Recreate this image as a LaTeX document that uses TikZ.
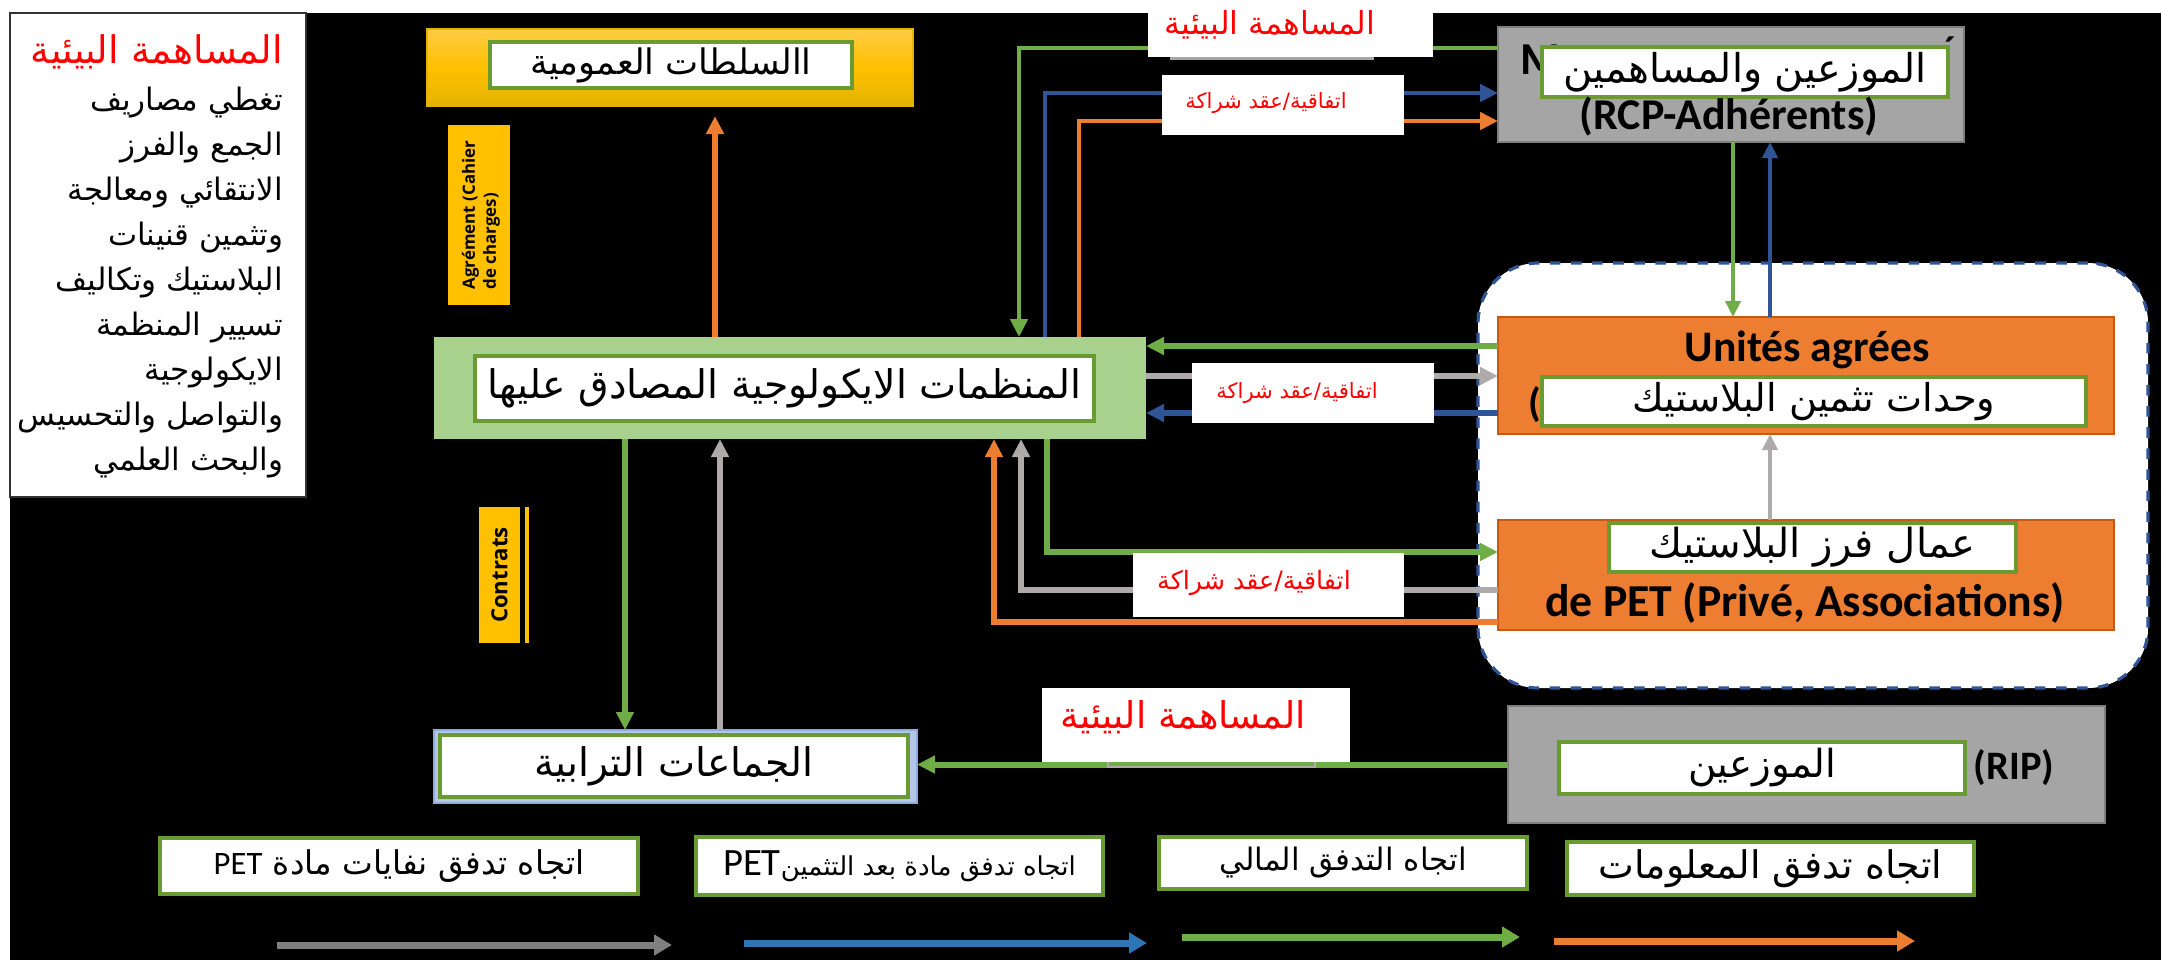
\documentclass[tikz,border=0pt]{standalone}
\usepackage{fontspec}
\usetikzlibrary{arrows.meta,fit}
\TeXXeTstate=1
\newfontfamily\arfont[Script=Arabic]{DejaVu Sans}
\newfontfamily\calfont{Carlito}
\newfontfamily\osfont{Open Sans}
\newcommand\fs[1]{\arfont\fontsize{#1}{#1}\selectfont}
\definecolor{cgreen}{HTML}{70AD47}
\definecolor{ibord}{HTML}{6A9B32}
\definecolor{cblue}{HTML}{2F5597}
\definecolor{cblue2}{HTML}{2E75B6}
\definecolor{corange}{HTML}{ED7D31}
\definecolor{orangeB}{HTML}{C55A11}
\definecolor{cgray}{HTML}{AEAAAA}
\definecolor{cgray2}{HTML}{7F7F7F}
\definecolor{ecofill}{HTML}{A9D18E}
\definecolor{boxgray}{HTML}{A5A5A5}
\definecolor{boxgrayB}{HTML}{7F7F7F}
\definecolor{lblue}{HTML}{B4C7E7}
\definecolor{lblueB}{HTML}{8FAADC}
\definecolor{gold}{HTML}{FFC000}
\definecolor{goldA}{HTML}{FFCC45}
\definecolor{goldC}{HTML}{E3B300}
\definecolor{redtxt}{HTML}{FF0000}
\begin{document}
\begin{tikzpicture}[x=0.01cm,y=-0.01cm,
  every node/.style={inner sep=0pt, outer sep=0pt},
  wbox/.style={fill=white, draw=ibord, line width=0.9pt},
  flow/.style={line width=1.7pt, -{Triangle[length=0.18cm,width=0.17cm]}},
  thinflow/.style={line width=1.1pt, -{Triangle[length=0.16cm,width=0.15cm]}},
  legarrow/.style={line width=2pt, -{Triangle[length=0.18cm,width=0.2cm]}},
  lat/.style={font=\calfont\bfseries\fontsize{11.5}{12}\selectfont},
  rlab/.style={text=redtxt},
  lline/.style={anchor=east}
]
\useasboundingbox (0,0) rectangle (2161,960);
\fill[black] (10,13) rectangle (2161,960);

% ---------- left text box
\node[fit={(10,13)(306,497)}, fill=white, draw=black!80, line width=0.5pt] (leftbox) {};
\node[anchor=east, rlab] (ltitle) at (283,52) {\fs{10.8}\beginR المساهمة البيئية\endR};
\node[lline] (l1) at (283,103) {\fs{8.8}\beginR تغطي مصاريف\endR};
\node[lline] (l2) at (283,148) {\fs{8.8}\beginR الجمع والفرز\endR};
\node[lline] (l3) at (283,193) {\fs{8.8}\beginR الانتقائي ومعالجة\endR};
\node[lline] (l4) at (283,238) {\fs{8.8}\beginR وتثمين قنينات\endR};
\node[lline] (l5) at (283,283) {\fs{8.8}\beginR البلاستيك وتكاليف\endR};
\node[lline] (l6) at (283,328) {\fs{8.8}\beginR تسيير المنظمة\endR};
\node[lline] (l7) at (283,373) {\fs{8.8}\beginR الايكولوجية\endR};
\node[lline] (l8) at (283,418) {\fs{8.8}\beginR والتواصل والتحسيس\endR};
\node[lline] (l9) at (283,463) {\fs{8.8}\beginR والبحث العلمي\endR};

% ---------- public authorities
\node[fit={(427,29)(913,106)}, top color=goldA, bottom color=goldC, middle color=gold, draw=goldC, line width=0.4pt] (pub) {};
\node[fit={(490,42)(852,88)}, wbox] (pubin) {};
\node (pubt) at (pubin.center) {\fs{10}\beginR االسلطات العمومية\endR};

\node[fit={(448,125)(510,305)}, fill=gold] (agr) {};
\node[rotate=90, align=left, font=\osfont\bfseries\fontsize{4.8}{6}\selectfont] (agrt) at (481,215) {Agrément (Cahier\\de charges)};

% ---------- eco organisations
\node[fit={(434,337)(1146,439)}, fill=ecofill] (eco) {};
\node[fit={(475,356)(1094,421)}, wbox] (ecoin) {};
\node (ecot) at (ecoin.center) {\fs{11.2}\beginR المنظمات الايكولوجية المصادق عليها\endR};

\node[fit={(479,507)(520,643)}, fill=gold] (contr) {};
\node[fit={(525,507)(529,643)}, fill=gold] (contrbar) {};
\node[rotate=90, font=\osfont\bfseries\fontsize{6.3}{7}\selectfont] (contrt) at (contr.center) {Contrats};

% ---------- territorial collectivities
\node[fit={(434,730)(917,803)}, fill=lblue, draw=lblueB, line width=0.5pt] (jam) {};
\node[fit={(440,735)(908,797)}, wbox] (jamin) {};
\node (jamt) at (jamin.center) {\fs{11.2}\beginR الجماعات الترابية\endR};

% ---------- dashed region
\node[fit={(1478,263)(2148,688)}, fill=white, draw=cblue, dashed, line width=0.9pt, rounded corners=0.6cm] (region) {};

% ---------- RCP
\node[fit={(1498,27)(1964,142)}, fill=boxgray, draw=boxgrayB, line width=0.6pt] (rcp) {};
\node[anchor=west, font=\calfont\bfseries\fontsize{13}{13}\selectfont] (rcpM) at (1520,60) {M};
\node[font=\calfont\bfseries\fontsize{11}{11}\selectfont] (rcpacc) at (1950,50) {´};
\node[fit={(1542,47)(1948,97)}, wbox] (rcpin) {};
\node (rcpt) at (rcpin.center) {\fs{11.3}\beginR الموزعين والمساهمين\endR};
\node[lat, font=\calfont\bfseries\fontsize{12.5}{13}\selectfont] (rcpl) at (1729,117) {(RCP-Adhérents)};

% ---------- units
\node[fit={(1498,317)(2114,434)}, fill=corange, draw=orangeB, line width=0.8pt] (unit) {};
\node[lat, font=\calfont\bfseries\fontsize{12.4}{13}\selectfont] (unitl) at (1807,350) {Unités agrées};
\node[lat, anchor=west] (unitp) at (1528,405) {(};
\node[fit={(1542,377)(2086,426)}, wbox] (unitin) {};
\node (unitt) at (unitin.center) {\fs{10.9}\beginR وحدات تثمين البلاستيك\endR};

% ---------- PET workers
\node[fit={(1498,520)(2114,630)}, fill=corange, draw=orangeB, line width=0.8pt] (pet) {};
\node[fit={(1609,523)(2016,572)}, wbox] (petin) {};
\node (pett) at (petin.center) {\fs{11.4}\beginR عمال فرز  البلاستيك\endR};
\node[lat, font=\calfont\bfseries\fontsize{13}{13}\selectfont] (petl) at (1805,603) {de PET (Privé, Associations)};

% ---------- RIP
\node[fit={(1508,706)(2105,823)}, fill=boxgray, draw=boxgrayB, line width=0.6pt] (rip) {};
\node[fit={(1559,742)(1965,794)}, wbox] (ripin) {};
\node (ript) at (ripin.center) {\fs{11}\beginR الموزعين\endR};
\node[lat] (ripl) at (2014,768) {(RIP)};

% ---------- helper coordinates
\coordinate (yE) at (0,48);
\coordinate (yF) at (0,93);
\coordinate (yG) at (0,121);
\coordinate (yH) at (0,346);
\coordinate (yI) at (0,376);
\coordinate (yJ) at (0,413);
\coordinate (yK) at (0,552);
\coordinate (yL) at (0,590);
\coordinate (yM) at (0,622);
\coordinate (xA) at (715,0);
\coordinate (xB) at (625,0);
\coordinate (xC) at (720,0);
\coordinate (xE) at (1019,0);
\coordinate (xF) at (1045,0);
\coordinate (xG) at (1079,0);
\coordinate (xK) at (1047,0);
\coordinate (xL) at (1021,0);
\coordinate (xM) at (994,0);
\coordinate (xN) at (1733,0);
\coordinate (xO) at (1770,0);

% ---------- connectors
\draw[flow, corange, shorten >=0.1cm] (xA |- eco.north) -- (xA |- pub.south);
\draw[flow, cgreen] (xB |- eco.south) -- (xB |- jam.north);
\draw[flow, cgray] (xC |- jam.north) -- (xC |- eco.south);
\draw[flow, cgreen] (rip.west) -- (rip.west -| jam.east);
\draw[flow, cgreen, line width=1.4pt] (rcp.west |- yE) -| (xE |- eco.north);
\draw[flow, cblue, line width=1.4pt] (xF |- eco.north) |- (rcp.west |- yF);
\draw[flow, corange, line width=1.4pt] (xG |- eco.north) |- (rcp.west |- yG);
\draw[flow, cgreen] (unit.west |- yH) -- (eco.east |- yH);
\draw[flow, cgray] (eco.east |- yI) -- (unit.west |- yI);
\draw[flow, cblue] (unit.west |- yJ) -- (eco.east |- yJ);
\draw[flow, cgreen, line width=1.5pt] (xK |- eco.south) |- (pet.west |- yK);
\draw[flow, cgray] (pet.west |- yL) -| (xL |- eco.south);
\draw[flow, corange, line width=1.5pt] (pet.west |- yM) -| (xM |- eco.south);
\draw[thinflow, cgreen] (xN |- rcp.south) -- (xN |- unit.north);
\draw[thinflow, cblue] (xO |- unit.north) -- (xO |- rcp.south);
\draw[thinflow, cgray] (xO |- pet.north) -- (xO |- unit.south);

% ---------- labels on connectors
\node[fit={(1170,52)(1374,60)}, fill=boxgray] (lab1s) {};
\node[fit={(1148,0)(1433,57)}, fill=white] (lab1) {};
\node[rlab] (lab1t) at (1270,25) {\fs{9}\beginR المساهمة البيئية\endR};
\node[fit={(1162,75)(1404,135)}, fill=white] (lab2) {};
\node[rlab] (lab2t) at (1266,103) {\fs{6}\beginR اتفاقية/عقد شراكة\endR};
\node[fit={(1192,363)(1434,423)}, fill=white] (lab3) {};
\node[rlab] (lab3t) at (1297,393) {\fs{6}\beginR اتفاقية/عقد شراكة\endR};
\node[fit={(1133,553)(1404,617)}, fill=white] (lab4) {};
\node[rlab] (lab4t) at (1254,583) {\fs{7.2}\beginR اتفاقية/عقد شراكة\endR};
\node[fit={(1108,756)(1315,767)}, draw=cgray, line width=0.6pt] (lab5s) {};
\node[fit={(1042,688)(1350,762)}, fill=white] (lab5) {};
\node[rlab] (lab5t) at (1183,717) {\fs{10.5}\beginR المساهمة البيئية\endR};

% ---------- legend
\node[fit={(160,838)(638,894)}, wbox] (lg1) {};
\node (lg1t) at (lg1.center) {\fs{9.3}\beginR اتجاه تدفق نفايات مادة {\calfont\beginL PET\endL}\endR};
\node[fit={(696,837)(1103,895)}, wbox] (lg2) {};
\node (lg2t) at (lg2.center) {\fs{7.4}\beginR اتجاه تدفق مادة بعد التثمين{\calfont\fontsize{11}{12}\selectfont\beginL PET\endL}\endR};
\node[fit={(1159,837)(1527,889)}, wbox] (lg3) {};
\node (lg3t) at (lg3.center) {\fs{8.8}\beginR اتجاه التدفق المالي\endR};
\node[fit={(1567,842)(1974,895)}, wbox] (lg4) {};
\node (lg4t) at (lg4.center) {\fs{10.8}\beginR اتجاه تدفق المعلومات\endR};

\coordinate (a1s) at (277,945); \coordinate (a1e) at (672,945);
\coordinate (a2s) at (744,943); \coordinate (a2e) at (1147,943);
\coordinate (a3s) at (1182,937); \coordinate (a3e) at (1520,937);
\coordinate (a4s) at (1554,941); \coordinate (a4e) at (1915,941);
\draw[legarrow, cgray2] (a1s) -- (a1e);
\draw[legarrow, cblue2] (a2s) -- (a2e);
\draw[legarrow, cgreen] (a3s) -- (a3e);
\draw[legarrow, corange] (a4s) -- (a4e);
\end{tikzpicture}
\end{document}
